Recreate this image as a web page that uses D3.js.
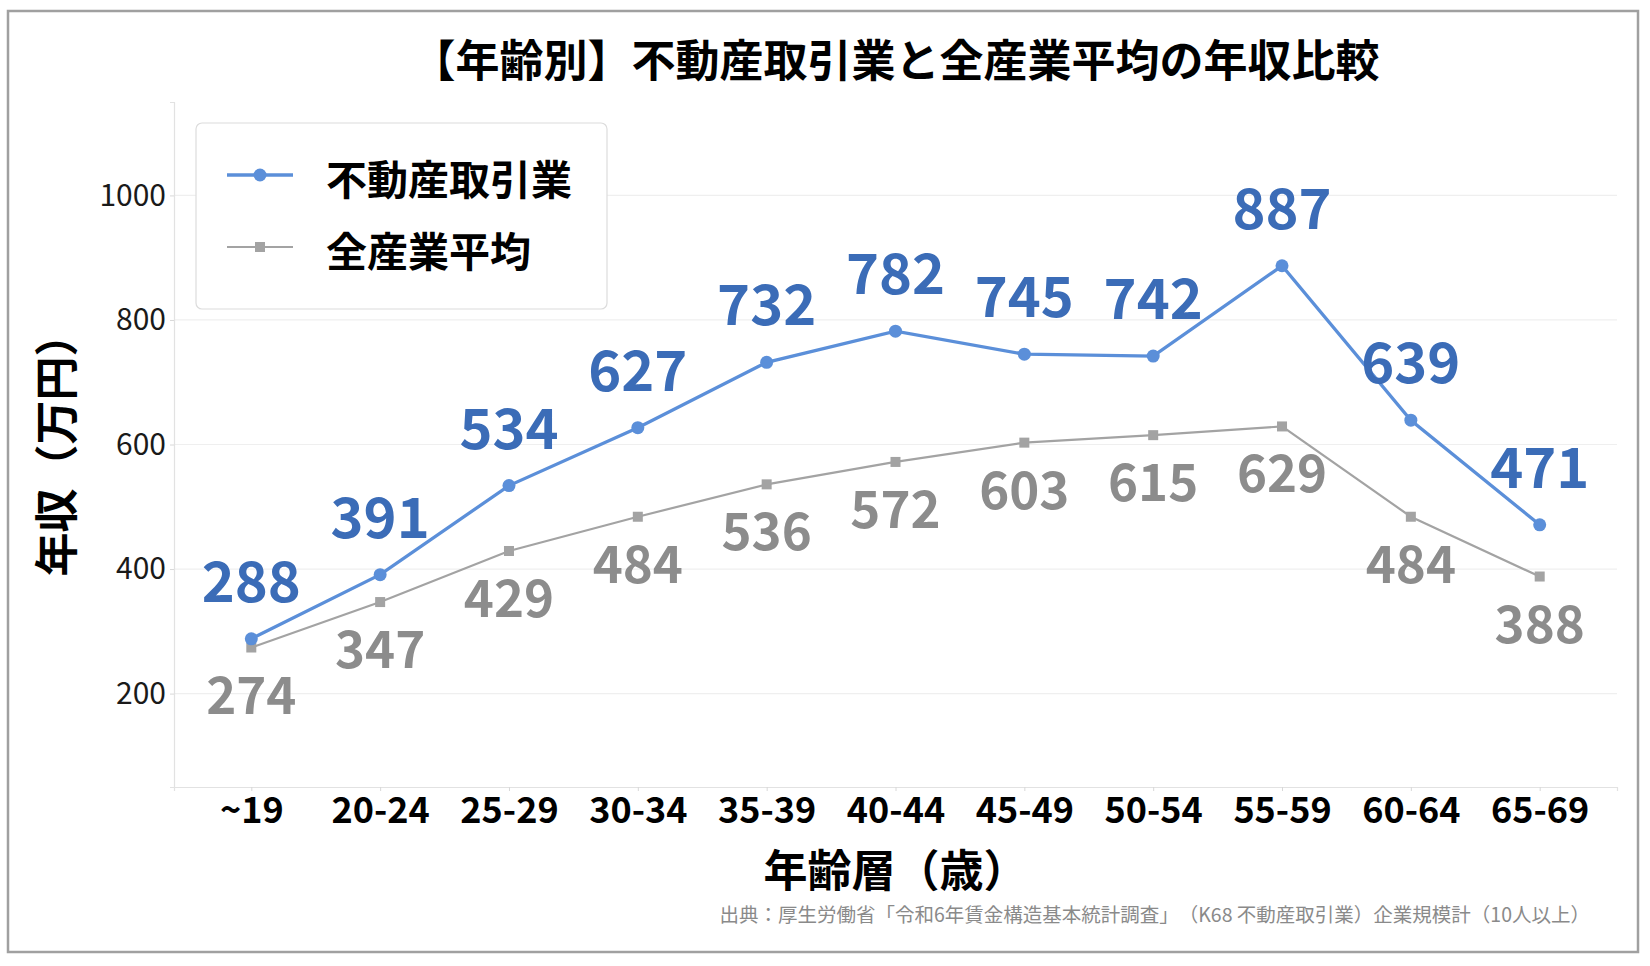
<!DOCTYPE html>
<html>
<head>
<meta charset="utf-8">
<script src="https://cdn.jsdelivr.net/npm/d3@7"></script>
<style>
  html, body { margin: 0; padding: 0; background: #fff; }
  svg { display: block; text-spacing-trim: space-all; font-kerning: none; }
</style>
</head>
<body>
<div id="chart"></div>
<script>
// ── data ──────────────────────────────────────────────
const ageGroups = ['~19', '20-24', '25-29', '30-34', '35-39', '40-44', '45-49', '50-54', '55-59', '60-64', '65-69'];
const realEstate = [288, 391, 534, 627, 732, 782, 745, 742, 887, 639, 471];
const allIndustry = [274, 347, 429, 484, 536, 572, 603, 615, 629, 484, 388];
const yTicks = [200, 400, 600, 800, 1000];
const seriesNames = ['不動産取引業', '全産業平均'];

const width = 1650;
const height = 966;
const margin = { top: 102, right: 33, bottom: 179, left: 174 };
const innerW = width - margin.left - margin.right;
const innerH = height - margin.top - margin.bottom;

const font = '"Noto Sans CJK JP", "Noto Sans", sans-serif';
const blue = '#5b8fd9';
const blueText = '#3b6cb7';
const gray = '#a3a3a3';
const grayText = '#8c8c8c';

const svg = d3.select('#chart')
  .append('svg')
  .attr('width', width)
  .attr('height', height)
  .style('font-family', font);

// figure frame
svg.append('rect')
  .attr('x', 8).attr('y', 11)
  .attr('width', 1630).attr('height', 941)
  .attr('fill', '#fff')
  .attr('stroke', '#a0a0a0')
  .attr('stroke-width', 2.5);

const g = svg.append('g')
  .attr('transform', `translate(${margin.left},${margin.top})`);

const x = d3.scalePoint().domain(ageGroups).range([0, innerW]).padding(0.6);
const y = d3.scaleLinear().domain([50, 1150]).range([innerH, 0]);

// grid
g.selectAll('.grid')
  .data(yTicks)
  .enter()
  .append('line')
  .attr('x1', 0).attr('x2', innerW)
  .attr('y1', d => y(d)).attr('y2', d => y(d))
  .attr('stroke', '#efefef')
  .attr('stroke-width', 1.2);

// axes
g.append('g')
  .call(d3.axisLeft(y).tickValues(yTicks).tickSize(4).tickPadding(4).tickFormat(d => String(d)))
  .call(a => a.select('.domain').attr('stroke', '#e2e2e2').attr('stroke-width', 1.2))
  .call(a => a.selectAll('line').attr('stroke', '#d8d8d8'))
  .selectAll('text')
  .attr('fill', '#1a1a1a')
  .attr('font-size', '30px')
  .attr('font-family', font);

g.append('g')
  .attr('transform', `translate(0,${innerH})`)
  .call(d3.axisBottom(x).tickSize(4).tickPadding(6))
  .call(a => a.select('.domain').attr('stroke', '#e2e2e2').attr('stroke-width', 1.2))
  .call(a => a.selectAll('line').attr('stroke', '#d8d8d8'))
  .selectAll('text')
  .attr('fill', '#000')
  .attr('font-size', '36px')
  .attr('font-weight', 'bold')
  .attr('font-family', font);

// lines
const line = d3.line()
  .x((d, i) => x(ageGroups[i]))
  .y(d => y(d));

g.append('path')
  .datum(allIndustry)
  .attr('d', line)
  .attr('fill', 'none')
  .attr('stroke', gray)
  .attr('stroke-width', 2.2);

g.selectAll('.avg-dot')
  .data(allIndustry)
  .enter()
  .append('rect')
  .attr('x', (d, i) => x(ageGroups[i]) - 5)
  .attr('y', d => y(d) - 5)
  .attr('width', 10).attr('height', 10)
  .attr('fill', gray);

g.append('path')
  .datum(realEstate)
  .attr('d', line)
  .attr('fill', 'none')
  .attr('stroke', blue)
  .attr('stroke-width', 3.3);

g.selectAll('.re-dot')
  .data(realEstate)
  .enter()
  .append('circle')
  .attr('cx', (d, i) => x(ageGroups[i]))
  .attr('cy', d => y(d))
  .attr('r', 6.5)
  .attr('fill', blue);

// value labels
g.selectAll('.avg-label')
  .data(allIndustry)
  .enter()
  .append('text')
  .attr('x', (d, i) => x(ageGroups[i]))
  .attr('y', d => y(d) + 66)
  .attr('text-anchor', 'middle')
  .attr('fill', grayText)
  .attr('font-size', '51px')
  .attr('font-weight', 'bold')
  .text(d => d);

g.selectAll('.re-label')
  .data(realEstate)
  .enter()
  .append('text')
  .attr('x', (d, i) => x(ageGroups[i]))
  .attr('y', d => y(d) - 37)
  .attr('text-anchor', 'middle')
  .attr('fill', blueText)
  .attr('font-size', '56px')
  .attr('font-weight', 'bold')
  .text(d => d);

// legend
const legend = svg.append('g').attr('transform', 'translate(196,123)');
legend.append('rect')
  .attr('width', 411).attr('height', 186)
  .attr('rx', 6)
  .attr('fill', '#fff')
  .attr('stroke', '#dcdcdc')
  .attr('stroke-width', 1.2);

legend.append('line').attr('x1', 31).attr('x2', 97).attr('y1', 52).attr('y2', 52)
  .attr('stroke', blue).attr('stroke-width', 3.3);
legend.append('circle').attr('cx', 64).attr('cy', 52).attr('r', 6.5).attr('fill', blue);
legend.append('text').attr('x', 130).attr('y', 54)
  .attr('dominant-baseline', 'central')
  .attr('font-size', '41px').attr('font-weight', 'bold').attr('fill', '#000')
  .text(seriesNames[0]);

legend.append('line').attr('x1', 31).attr('x2', 97).attr('y1', 124).attr('y2', 124)
  .attr('stroke', gray).attr('stroke-width', 2.2);
legend.append('rect').attr('x', 59).attr('y', 119).attr('width', 10).attr('height', 10).attr('fill', gray);
legend.append('text').attr('x', 130).attr('y', 126)
  .attr('dominant-baseline', 'central')
  .attr('font-size', '41px').attr('font-weight', 'bold').attr('fill', '#000')
  .text(seriesNames[1]);

// title
svg.append('text')
  .attr('x', margin.left + innerW / 2)
  .attr('y', 58)
  .attr('text-anchor', 'middle')
  .attr('dominant-baseline', 'central')
  .attr('font-size', '44px')
  .attr('font-weight', 'bold')
  .attr('fill', '#000')
  .text('【年齢別】不動産取引業と全産業平均の年収比較');

// axis labels
svg.append('text')
  .attr('transform', `translate(54, ${margin.top + innerH / 2}) rotate(-90)`)
  .attr('text-anchor', 'middle')
  .attr('dominant-baseline', 'central')
  .attr('font-size', '44px')
  .attr('font-weight', 'bold')
  .attr('fill', '#000')
  .text('年収（万円）');

svg.append('text')
  .attr('x', margin.left + innerW / 2)
  .attr('y', 868)
  .attr('text-anchor', 'middle')
  .attr('dominant-baseline', 'central')
  .attr('font-size', '44px')
  .attr('font-weight', 'bold')
  .attr('fill', '#000')
  .text('年齢層（歳）');

// source note
svg.append('text')
  .attr('x', 1590)
  .attr('y', 913)
  .attr('text-anchor', 'end')
  .attr('dominant-baseline', 'central')
  .attr('font-size', '19.5px')
  .attr('fill', '#8a8a8a')
  .text('出典：厚生労働省「令和6年賃金構造基本統計調査」（K68 不動産取引業）企業規模計（10人以上）');
</script>
</body>
</html>
